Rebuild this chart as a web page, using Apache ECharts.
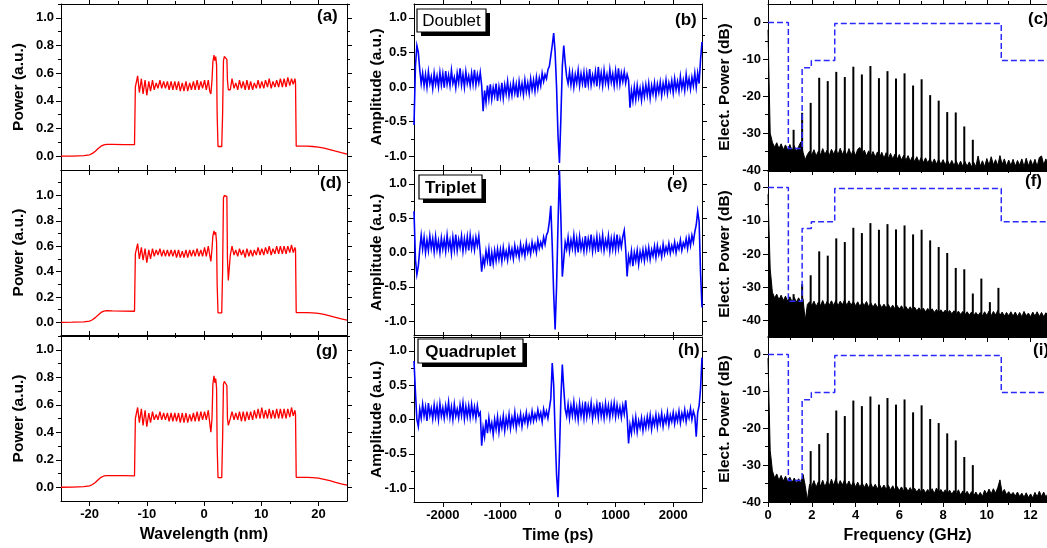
<!DOCTYPE html>
<html><head><meta charset="utf-8">
<script src="https://cdn.jsdelivr.net/npm/echarts/dist/echarts.min.js"></script>
<style>html,body{margin:0;padding:0;background:#fff}#chart{width:1047px;height:548px}</style>
</head><body><div id="chart"></div>
<script>
// ---------------- DATA ----------------
// Column 1: optical spectra (wavelength in nm, power in a.u.)
const wl = [-25,-23,-21,-20,-19.5,-19,-18.5,-18,-17.5,-17,-16,-14,-12.15,-12.0,
 -11.85,-11.6,-11.3,-10.95,-10.65,-10.3,-10.0,-9.65,-9.35,-9.0,-8.7,-8.35,-8.05,-7.7,-7.4,-7.05,-6.75,-6.4,-6.1,-5.75,-5.45,-5.1,-4.8,-4.45,-4.15,-3.8,-3.5,-3.15,-2.85,-2.5,-2.2,-1.85,-1.55,-1.2,-0.9,-0.55,-0.25,0.1,0.4,0.75,
 1.0,1.2,1.4,1.55,1.75,1.9,2.05,2.2,2.3,2.45,3.1,3.25,3.4,3.55,3.7,3.85,4.0,4.1,4.25,4.45,
 4.6,4.9,5.25,5.55,5.9,6.2,6.55,6.85,7.2,7.5,7.85,8.15,8.5,8.8,9.15,9.45,9.8,10.1,10.45,10.75,11.1,11.4,11.75,12.05,12.4,12.7,13.05,13.35,13.7,14.0,14.35,14.65,15.0,15.3,15.6,15.9,
 16.0,16.12,17,18,19,20,21,22,23,24,25];
const powerA = [0,0.001,0.004,0.01,0.02,0.035,0.055,0.072,0.082,0.085,0.085,0.084,0.083,0.5,
 0.49,0.58,0.46,0.56,0.45,0.55,0.44,0.54,0.47,0.55,0.48,0.53,0.49,0.55,0.49,0.54,0.49,0.54,0.48,0.54,0.48,0.54,0.48,0.54,0.47,0.53,0.47,0.54,0.47,0.53,0.48,0.54,0.48,0.55,0.48,0.54,0.49,0.55,0.48,0.55,
 0.47,0.45,0.55,0.68,0.73,0.69,0.72,0.66,0.3,0.07,0.07,0.3,0.69,0.72,0.71,0.72,0.7,0.55,0.48,0.49,
 0.48,0.56,0.49,0.53,0.48,0.55,0.49,0.54,0.48,0.55,0.48,0.54,0.48,0.53,0.49,0.55,0.49,0.54,0.49,0.55,0.5,0.56,0.49,0.54,0.5,0.55,0.5,0.56,0.5,0.56,0.5,0.57,0.51,0.56,0.52,0.56,
 0.53,0.072,0.072,0.072,0.07,0.066,0.058,0.048,0.036,0.025,0.015];
const powerD = [0,0.001,0.004,0.01,0.02,0.037,0.058,0.078,0.088,0.092,0.09,0.088,0.087,0.54,
 0.53,0.62,0.5,0.59,0.49,0.58,0.47,0.57,0.5,0.58,0.52,0.57,0.53,0.58,0.52,0.57,0.52,0.57,0.52,0.57,0.52,0.57,0.51,0.57,0.51,0.56,0.51,0.57,0.51,0.57,0.52,0.57,0.52,0.58,0.52,0.57,0.52,0.59,0.52,0.6,
 0.53,0.48,0.58,0.68,0.72,0.69,0.71,0.63,0.3,0.075,0.075,0.4,0.98,1.0,1.0,1.01,0.99,0.5,0.33,0.34,
 0.53,0.6,0.53,0.57,0.52,0.58,0.53,0.57,0.51,0.58,0.52,0.57,0.52,0.57,0.53,0.59,0.53,0.58,0.53,0.59,0.54,0.6,0.53,0.58,0.54,0.6,0.54,0.6,0.54,0.6,0.54,0.6,0.55,0.61,0.55,0.59,
 0.57,0.077,0.077,0.077,0.075,0.07,0.062,0.05,0.038,0.027,0.017];
const powerG = [0,0.001,0.004,0.01,0.02,0.035,0.055,0.072,0.082,0.085,0.085,0.084,0.083,0.5,
 0.5,0.58,0.47,0.57,0.45,0.56,0.44,0.54,0.47,0.55,0.49,0.53,0.49,0.55,0.49,0.54,0.49,0.54,0.48,0.54,0.48,0.54,0.48,0.54,0.47,0.54,0.47,0.54,0.47,0.53,0.48,0.54,0.48,0.55,0.48,0.55,0.49,0.55,0.49,0.56,
 0.47,0.4,0.5,0.75,0.81,0.76,0.79,0.72,0.3,0.07,0.07,0.35,0.75,0.77,0.76,0.77,0.74,0.5,0.45,0.45,
 0.5,0.55,0.49,0.54,0.49,0.55,0.48,0.55,0.48,0.55,0.49,0.55,0.49,0.56,0.5,0.57,0.5,0.58,0.5,0.56,0.5,0.57,0.5,0.56,0.5,0.57,0.5,0.57,0.5,0.57,0.5,0.57,0.51,0.58,0.52,0.56,
 0.53,0.072,0.072,0.072,0.07,0.066,0.058,0.048,0.036,0.025,0.015];

// Column 2: temporal waveforms, sampled every tStep ps from tStart
const tStart = -2500, tStep = 25;
const ampDoublet = [
 -0.55,0.3,0.6,0.5,0.25,0.05,0.2,0.02,0.18,0.0,0.22,0.05,0.15,-0.02,0.2,0.04,0.16,0.0,0.21,0.03,
 0.19,-0.01,0.23,0.04,0.17,0.02,0.24,0.05,0.14,-0.01,0.2,0.06,0.27,0.03,0.18,0.0,0.22,0.05,0.16,0.02,
 0.2,0.04,0.25,0.03,0.18,0.06,0.21,0.02,-0.35,-0.05,-0.22,0.02,-0.17,0.04,-0.18,-0.01,-0.13,0.05,-0.2,0.0,
 -0.14,0.06,-0.16,0.03,-0.1,0.08,-0.13,0.02,-0.12,0.07,-0.09,0.04,-0.15,0.08,-0.08,0.05,-0.11,0.1,-0.07,0.06,
 -0.09,0.12,-0.04,0.1,-0.06,0.14,-0.02,0.13,0.02,0.2,0.08,0.18,0.12,0.25,0.3,0.45,0.6,0.78,0.5,0.0,
 -0.7,-1.1,-0.45,0.3,0.6,0.35,0.15,0.05,0.22,0.03,0.2,0.0,0.18,0.06,0.24,0.02,0.19,0.05,0.21,-0.01,
 0.2,0.04,0.26,0.03,0.17,0.06,0.22,0.01,0.29,0.05,0.2,0.02,0.24,0.06,0.18,0.03,0.25,0.07,0.19,0.02,
 0.23,0.05,0.27,0.04,0.2,0.08,0.22,0.06,0.18,0.1,-0.3,-0.05,-0.2,0.0,-0.18,0.02,-0.15,-0.02,-0.19,0.01,
 -0.14,0.03,-0.12,0.05,-0.16,0.02,-0.1,0.06,-0.13,0.04,-0.08,0.07,-0.12,0.05,-0.07,0.1,-0.09,0.06,-0.05,0.09,
 -0.08,0.12,-0.04,0.08,-0.06,0.15,-0.02,0.1,-0.05,0.18,0.0,0.12,-0.03,0.14,0.02,0.2,0.0,0.2,0.05,0.4,
 0.65];
const ampTriplet = [
 0.6,-0.1,-0.32,-0.2,0.05,0.25,0.05,0.22,0.0,0.18,0.03,0.24,0.06,0.2,0.01,0.23,0.04,0.17,0.0,0.21,
 0.05,0.19,0.02,0.25,0.06,0.18,-0.01,0.22,0.04,0.26,0.03,0.19,0.07,0.24,0.02,0.2,0.05,0.23,0.03,0.25,
 0.06,0.2,0.04,0.22,0.1,0.24,0.0,-0.28,-0.08,-0.18,0.02,-0.12,0.05,-0.2,0.0,-0.16,0.03,-0.12,0.05,-0.1,
 0.04,-0.13,0.07,-0.08,0.02,-0.11,0.08,-0.06,0.05,-0.09,0.1,-0.04,0.06,-0.07,0.12,-0.02,0.08,-0.05,0.14,0.0,
 0.1,-0.02,0.15,0.03,0.12,0.0,0.18,0.06,0.15,0.08,0.22,0.12,0.25,0.3,0.45,0.68,0.1,-0.6,-1.12,-0.5,
 0.4,1.2,0.5,-0.35,-0.1,0.15,0.05,0.22,0.02,0.18,0.06,0.25,0.03,0.2,0.0,0.23,0.05,0.17,0.02,0.24,
 0.04,0.2,0.07,0.26,0.02,0.19,0.05,0.23,0.01,0.21,0.06,0.25,0.03,0.18,0.07,0.24,0.02,0.2,0.05,0.22,
 0.04,0.26,0.06,0.2,0.08,0.23,0.32,0.05,-0.35,-0.05,-0.15,0.02,-0.2,0.0,-0.12,0.03,-0.17,0.01,-0.1,0.04,
 -0.12,0.05,-0.08,0.07,-0.1,0.04,-0.05,0.09,-0.07,0.1,-0.03,0.06,-0.06,0.12,-0.02,0.08,0.0,0.13,-0.01,0.1,
 0.02,0.15,0.0,0.12,0.05,0.18,0.03,0.14,0.08,0.2,0.06,0.22,0.1,0.25,0.15,0.3,0.4,0.6,0.45,-0.3,
 -0.8];
const ampQuadruplet = [
 0.85,0.4,0.0,-0.1,0.15,0.02,0.22,0.05,0.18,-0.02,0.24,0.06,0.16,0.01,0.21,0.04,0.19,0.0,0.23,0.05,
 0.17,0.02,0.2,0.06,0.25,0.03,0.18,0.0,0.22,0.05,0.15,0.02,0.21,0.06,0.24,0.01,0.19,0.04,0.2,0.03,
 0.22,0.05,0.18,0.02,0.2,0.06,0.1,-0.38,-0.12,-0.25,0.0,-0.2,0.02,-0.15,-0.05,-0.22,0.0,-0.14,0.04,-0.18,
 0.0,-0.12,0.05,-0.16,0.02,-0.1,0.07,-0.13,0.03,-0.08,0.1,-0.12,0.04,-0.06,0.08,-0.1,0.05,-0.04,0.1,-0.07,
 0.06,-0.03,0.12,-0.02,0.08,0.0,0.14,0.02,0.1,-0.03,0.15,0.04,0.12,0.02,0.0,0.3,0.82,0.5,-0.2,-0.8,
 -1.13,-0.5,0.3,0.8,0.45,0.15,0.05,0.22,0.02,0.2,0.06,0.25,0.03,0.18,0.0,0.23,0.05,0.2,0.02,0.26,
 0.04,0.2,0.07,0.24,0.01,0.18,0.06,0.22,0.03,0.25,0.05,0.19,0.02,0.23,0.06,0.2,0.03,0.22,0.07,0.24,
 0.04,0.21,0.06,0.18,0.03,0.2,0.08,0.28,0.05,-0.35,-0.08,-0.2,0.0,-0.15,0.03,-0.18,-0.02,-0.12,0.02,-0.16,
 0.0,-0.12,0.04,-0.1,0.06,-0.14,0.02,-0.08,0.07,-0.11,0.05,-0.06,0.09,-0.1,0.04,-0.05,0.1,-0.08,0.06,-0.03,
 0.1,-0.06,0.08,-0.02,0.12,-0.05,0.09,0.0,0.14,-0.03,0.1,0.02,0.16,0.0,0.12,0.05,-0.25,0.1,0.2,0.45,
 0.9];

// Column 3: RF spectra. Noise floor sampled every rfStep GHz from 0
const rfStep = 0.1;
const noiseC = [
 -2,-30,-32.5,-33.8,-32.6,-34.2,-32.9,-34.5,-33.2,-34.6,
 -33.1,-34.8,-33.4,-34.9,-33.6,-32.4,-35.2,-37.2,-35.8,-34.9,
 -36,-34.5,-36.2,-34.9,-35.9,-34.2,-35.8,-34.6,-36.1,-34.4,
 -35.7,-34.3,-35.9,-34.1,-35.8,-34.5,-36,-34.2,-35.9,-34.6,
 -36.1,-34.4,-33.9,-35.8,-34.6,-36.2,-34.8,-36.4,-35,-36.5,
 -35.1,-36.6,-35.2,-36.8,-35.3,-36.9,-35.5,-37,-35.7,-37.1,
 -35.8,-37.3,-36,-37.4,-36.1,-37.6,-36.3,-37.7,-36.4,-37.9,
 -36.6,-38,-36.7,-38.1,-36.9,-38.3,-37,-38.4,-37.1,-38.5,
 -37.2,-38.6,-37.3,-38.7,-37.4,-38.8,-37.5,-38.9,-37.6,-39,
 -37.7,-39,-37.8,-39.1,-37.9,-39.1,-36.2,-39,-37.5,-39.1,
 -36.9,-38.7,-36.4,-38.6,-37.2,-38.8,-36.1,-38.5,-37,-38.9,
 -37.3,-38.8,-37.1,-39,-37.4,-38.7,-37,-39.1,-36.8,-38.9,
 -37.2,-38.8,-37.1,-39,-36.6,-36.2,-38.6,-37,-38.9];
const noiseF = [
 -2,-24.5,-31.5,-33.2,-32.1,-33.8,-32.4,-34,-32.7,-34.2,
 -32.9,-34.4,-33.1,-34.5,-33.2,-34.6,-33.5,-40,-35.2,-34.4,
 -35.6,-34.2,-35.8,-34.5,-35.5,-34,-35.7,-34.3,-35.4,-34.1,
 -35.5,-34,-35.6,-34.2,-35.3,-33.8,-35.5,-34.1,-35.4,-34.3,
 -35.6,-34.4,-35.8,-34.5,-35.5,-34.3,-35.9,-34.7,-36,-34.9,
 -36.1,-35,-36.2,-35.1,-36.3,-35.2,-36.4,-35.4,-36.5,-35.5,
 -36.6,-35.6,-36.8,-35.8,-36.9,-35.9,-37,-36,-37.1,-36.2,
 -37.2,-36.3,-37.4,-36.4,-37.5,-36.5,-37.6,-36.7,-37.7,-36.8,
 -37.8,-36.9,-37.9,-37,-38,-37.1,-38.1,-37.2,-38.2,-37.3,
 -38.3,-37.4,-38.4,-37.5,-38.5,-37.6,-38.5,-37.6,-38.6,-37.4,
 -38.5,-37.2,-38.6,-37.3,-38.4,-37,-38.5,-37.5,-38.7,-37.6,
 -38.6,-37.4,-38.7,-37.5,-38.8,-37.6,-38.9,-37.3,-38.6,-37.8,
 -38.9,-37.5,-38.7,-37.4,-38.8,-37.6,-38.9,-37.7,-38.6];
const noiseI = [
 -1,-26,-31.5,-33.5,-32.4,-34.1,-32.8,-34.3,-33,-34.5,
 -33.3,-34.7,-33.5,-34.8,-33.7,-34.9,-32.5,-35.5,-39.5,-35.2,
 -35.8,-34.2,-36,-34.5,-35.7,-34.1,-35.9,-34.4,-35.6,-33.8,
 -35.5,-33.6,-35.7,-34.2,-35.4,-34,-35.6,-34.3,-35.8,-34.5,
 -35.9,-34.6,-36,-34.8,-36.1,-34.9,-36.2,-35,-36.3,-35.2,
 -36.4,-35.3,-36.5,-35.4,-36.6,-35.5,-36.7,-35.6,-36.8,-35.8,
 -36.9,-35.9,-37,-36,-37.1,-36.1,-37.2,-36.3,-37.3,-36.4,
 -37.4,-36.5,-37.5,-36.6,-37.6,-36.4,-37.7,-36.2,-37.5,-36.6,
 -37.6,-36.7,-37.8,-36.8,-37.9,-36.9,-38,-36.7,-38.1,-37,
 -38,-37.1,-38.2,-37.2,-38.3,-37.3,-38.4,-37.4,-38.5,-36.8,
 -37.9,-36.5,-37.8,-36.4,-37.6,-36.1,-34,-37.5,-36.6,-38,
 -37.2,-38.1,-37.4,-38.4,-37.3,-38.5,-37.6,-38.7,-37.5,-38.8,
 -37.8,-38.9,-37.4,-38.6,-37.1,-38.5,-37.3,-38.7,-37.6];
// comb line frequencies (GHz) and peak levels (dB); null = no visible line
const combFreq = [1.17,1.56,1.95,2.34,2.73,3.12,3.51,3.90,4.29,4.68,5.07,5.46,5.85,6.24,6.63,7.02,7.41,7.80,8.19,8.58,8.97,9.36,9.75,10.14,10.53];
const combC = [-29.1,-24.5,-21.8,-15,-15.9,-13.4,-14.8,-12,-14.1,-11.8,-15.1,-13.2,-15.2,-13.8,-17.1,-15.4,-19.7,-21.2,-24.3,-24.4,-28.2,-31.8,null,null,null];
const combF = [-32.1,-29.1,-26.4,-19.2,-20.5,-15.3,-16.4,-12.1,-13.7,-10.7,-12.7,-11.0,-12.6,-11.4,-14.1,-12.7,-15.9,-17.9,-19.7,-24.2,-24.6,-31.9,-27.4,-34.5,-30.2];
const combI = [null,null,-26.2,-24.3,-21.3,-15.2,-16.7,-12.5,-14.0,-11.4,-13.6,-11.8,-13.6,-12.2,-15.7,-13.8,-17.5,-18.6,-21.4,-23.3,-27.8,-30.0,null,null,null];
// filter mask (dashed blue)
const maskFreq = [0,0.93,0.93,1.56,1.56,1.98,1.98,3.05,3.05,10.66,10.66,12.8];
const maskDB = [0,0,-34.2,-34.2,-12.3,-12.3,-10.3,-10.3,-0.3,-0.3,-10.3,-10.3];

// tick values
const wlMajor = [-20,-10,0,10,20], wlMinor = [-15,-5,5,15];
const powMajor = [0,0.2,0.4,0.6,0.8,1.0], powMinor = [0.1,0.3,0.5,0.7,0.9,1.1];
const tMajor = [-2000,-1000,0,1000,2000], tMinor = [-1500,-500,500,1500];
const ampMajor = [-1,-0.5,0,0.5,1], ampMinor = [-0.75,-0.25,0.25,0.75];
const fMajor = [0,2,4,6,8,10,12], fMinor = [1,3,5,7,9,11];
const dbMajor = [-40,-30,-20,-10,0], dbMinor = [-45,-35,-25,-15,-5];
const panelLabels = ['(a)','(b)','(c)','(d)','(e)','(f)','(g)','(h)','(i)'];
const boxLabels = ['Doublet','Triplet','Quadruplet'];

// ---------------- BUILD ----------------
const FONT = "'Liberation Sans', Arial, Helvetica, sans-serif";
const option = {animation:false, backgroundColor:'#fff', grid:[], xAxis:[], yAxis:[], series:[], graphic:[]};
[[wl,powerA],[wl,powerD],[wl,powerG]].forEach(p=>{ if(p[0].length!==p[1].length) throw new Error('len '+p[1].length); });
[ampDoublet,ampTriplet,ampQuadruplet].forEach(a=>{ if(a.length!==201) throw new Error('amp len '+a.length); });
[noiseC,noiseF,noiseI].forEach(a=>{ if(a.length!==129) throw new Error('noise len '+a.length); });

function panel(g, c) {
  const gi = option.grid.length;
  option.grid.push({left:g[0], top:g[1], width:g[2], height:g[3], containLabel:false, show:false});
  const base = {gridIndex:gi, type:'value', splitLine:{show:false}, splitArea:{show:false}, nameMoveOverlap:false};
  const line = {show:true, onZero:false, lineStyle:{color:'#000', width:1}};
  const noLine = {show:false, onZero:false};
  const tick = (v,len) => ({show:true, inside:false, customValues:v, length:len, lineStyle:{color:'#000', width:1}});
  const lbl = (show, v, fmt) => show ? {show:true, customValues:v, formatter:fmt, color:'#000', fontFamily:FONT, fontWeight:'bold', fontSize:13, margin:7, hideOverlap:false} : {show:false};
  const X = {min:c.x[0], max:c.x[1]}, Y = {min:c.y[0], max:c.y[1]};
  const xi = option.xAxis.length, yi = option.yAxis.length;
  option.xAxis.push(Object.assign({}, base, X, {position:'bottom', axisLine:line, axisTick:tick(c.xMaj,5), axisLabel:lbl(c.xLab, c.xMaj, v=>String(v)),
    name:c.xName||'', nameLocation:'middle', nameGap:26, nameTextStyle:{fontFamily:FONT, fontWeight:'bold', fontSize:16, color:'#000'}}));
  option.xAxis.push(Object.assign({}, base, X, {position:'bottom', axisLine:noLine, axisTick:tick(c.xMin,3), axisLabel:{show:false}}));
  option.xAxis.push(Object.assign({}, base, X, {position:'top', axisLine:line, axisTick:tick(c.xMaj,5), axisLabel:{show:false}}));
  option.xAxis.push(Object.assign({}, base, X, {position:'top', axisLine:noLine, axisTick:tick(c.xMin,3), axisLabel:{show:false}}));
  option.yAxis.push(Object.assign({}, base, Y, {position:'left', axisLine:line, axisTick:tick(c.yMaj,5), axisLabel:lbl(true, c.yMaj, c.yFmt),
    name:c.yName, nameLocation:'middle', nameGap:c.yGap, nameRotate:90, nameTextStyle:{fontFamily:FONT, fontWeight:'bold', fontSize:15.5, color:'#000'}}));
  option.yAxis.push(Object.assign({}, base, Y, {position:'left', axisLine:noLine, axisTick:tick(c.yMin,3), axisLabel:{show:false}}));
  option.yAxis.push(Object.assign({}, base, Y, {position:'right', axisLine:line, axisTick:tick(c.yMaj,5), axisLabel:{show:false}}));
  option.yAxis.push(Object.assign({}, base, Y, {position:'right', axisLine:noLine, axisTick:tick(c.yMin,3), axisLabel:{show:false}}));
  return {xi, yi, ymin:c.y[0]};
}

const colRect = [[61,286],[414,288],[768,279]];
const rowRect = [[[4,166],[170,165],[336,165]], [[4,166],[170,165],[337,165]], [[4,166],[171,166],[336,166]]];
const specs = [powerA, powerD, powerG];
const amps = [ampDoublet, ampTriplet, ampQuadruplet];
const noises = [noiseC, noiseF, noiseI];
const combs = [combC, combF, combI];
const f1 = v=>v.toFixed(1);

for (let r=0;r<3;r++){
  const last = r===2;
  // column 1
  let g = [colRect[0][0], rowRect[0][r][0], colRect[0][1], rowRect[0][r][1]];
  let a = panel(g, {x:[-25,25], y:[-0.1, r===1?1.2:1.1], xMaj:wlMajor, xMin:wlMinor, yMaj:powMajor, yMin:powMinor, xLab:last, xName:last?'Wavelength (nm)':'', yFmt:f1, yName:'Power (a.u.)', yGap:34});
  option.series.push({type:'line', xAxisIndex:a.xi, yAxisIndex:a.yi, data:wl.map((x,i)=>[x,specs[r][i]]), showSymbol:false, symbol:'none', lineStyle:{color:'#ff0000', width:1.3}, itemStyle:{color:'#ff0000'}, clip:true, z:3});
  // column 2
  g = [colRect[1][0], rowRect[1][r][0], colRect[1][1], rowRect[1][r][1]];
  a = panel(g, {x:[-2500,2500], y:[-1.2,1.2], xMaj:tMajor, xMin:tMinor, yMaj:ampMajor, yMin:ampMinor, xLab:last, xName:last?'Time (ps)':'', yFmt:f1, yName:'Amplitude (a.u.)', yGap:29});
  option.series.push({type:'line', xAxisIndex:a.xi, yAxisIndex:a.yi, data:amps[r].map((v,i)=>[tStart+i*tStep, v]), showSymbol:false, symbol:'none', lineStyle:{color:'#0000ff', width:1.6, join:'miter'}, itemStyle:{color:'#0000ff'}, clip:true, z:3});
  // column 3
  g = [colRect[2][0], rowRect[2][r][0], colRect[2][1], rowRect[2][r][1]];
  const ymin = r===1 ? -45 : -40;
  a = panel(g, {x:[0,12.75], y:[ymin,5], xMaj:fMajor, xMin:fMinor, yMaj:dbMajor, yMin:dbMinor.filter(v=>v>ymin), xLab:last, xName:last?'Frequency (GHz)':'', yFmt:v=>String(v), yName:'Elect. Power (dB)', yGap:35});
  option.series.push({type:'line', xAxisIndex:a.xi, yAxisIndex:a.yi, data:noises[r].map((v,i)=>[+(i*rfStep).toFixed(2), v]), showSymbol:false, symbol:'none',
    lineStyle:{color:'#000', width:1}, itemStyle:{color:'#000'}, areaStyle:{color:'#000', opacity:1, origin:'start'}, clip:true, z:3});
  const combData = [];
  combFreq.forEach((f,i)=>{ if (combs[r][i]!==null) combData.push([f, combs[r][i]]); });
  option.series.push({type:'custom', xAxisIndex:a.xi, yAxisIndex:a.yi, data:combData, clip:true, z:4,
    renderItem:(params, api)=>{ const p1 = api.coord([api.value(0), api.value(1)]); const p0 = api.coord([api.value(0), ymin]);
      return {type:'line', shape:{x1:p0[0], y1:p0[1], x2:p1[0], y2:p1[1]}, style:{stroke:'#000', lineWidth:2}}; }});
  option.series.push({type:'line', xAxisIndex:a.xi, yAxisIndex:a.yi, data:maskFreq.map((f,i)=>[f, maskDB[i]]), showSymbol:false, symbol:'none',
    lineStyle:{color:'#2a2aff', width:1.5, type:[6,3]}, itemStyle:{color:'#2a2aff'}, clip:true, z:5});
}

// panel labels
const labelPos = [[317,8],[675,12],[1028,11],[320,175],[667,176],[1025,173],[316,343],[678,342],[1033,342]];
panelLabels.forEach((t,i)=>{
  option.graphic.push({type:'text', left:labelPos[i][0], top:labelPos[i][1], z:100, style:{text:t, font:'bold 17px '+FONT, fill:'#000'}});
});
// boxed waveform names
const boxes = [[417,9,69,23,'normal'],[419,175,63,24,'bold'],[418,339,105,24,'bold']];
boxLabels.forEach((t,i)=>{
  const b = boxes[i];
  option.graphic.push({type:'rect', z:100, shape:{x:b[0]+4,y:b[1]+4,width:b[2],height:b[3]}, style:{fill:'#000'}});
  option.graphic.push({type:'rect', z:101, shape:{x:b[0],y:b[1],width:b[2],height:b[3]}, style:{fill:'#fff', stroke:'#000', lineWidth:1.2}});
  option.graphic.push({type:'text', z:102, x:b[0]+b[2]/2, y:b[1]+b[3]/2+1, style:{text:t, font:b[4]+' 17px '+FONT, fill:'#000', align:'center', verticalAlign:'middle', textAlign:'center', textVerticalAlign:'middle'}});
});

const chart = echarts.init(document.getElementById('chart'), null, {renderer:'canvas'});
chart.setOption(option);
</script>
</body></html>
